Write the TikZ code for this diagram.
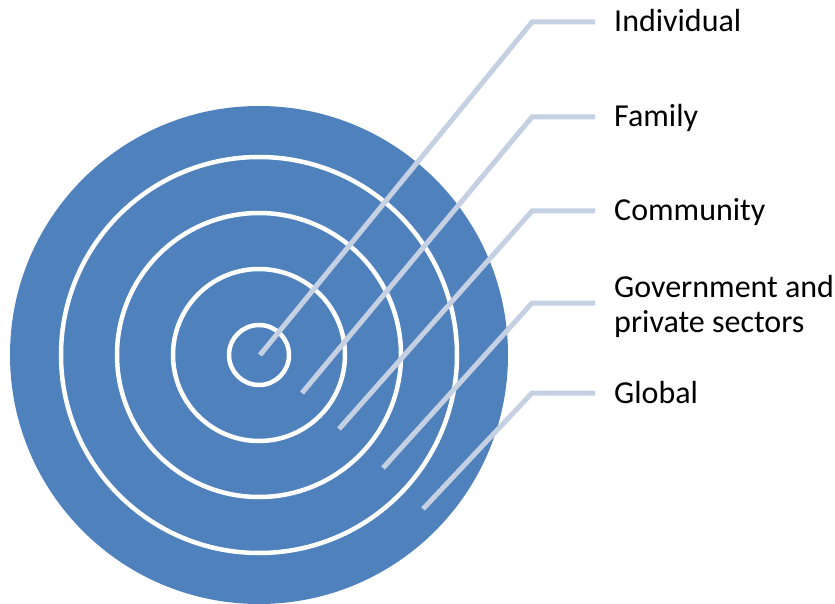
\documentclass[tikz,border=0pt]{standalone}
\usepackage{fontspec}
\setmainfont{Carlito}
\usetikzlibrary{positioning}

\definecolor{targetblue}{RGB}{79,129,189}
\definecolor{leaderblue}{RGB}{197,208,227}

\tikzset{
  target/.style={fill=targetblue},
  ring/.style={draw=white, line width=4.5pt},
  leader/.style={draw=leaderblue, line width=5pt},
  lbl/.style={inner sep=0pt, text height=20pt, text depth=0pt,
    font=\fontsize{32}{35}\selectfont, align=left}
}

\begin{document}
\begin{tikzpicture}[x=1pt,y=-1pt]
  \useasboundingbox (0,0) rectangle (835,604);

  % Target
  \coordinate (c) at (259,355);
  \fill[target] (c) circle (249pt);
  \foreach \r in {30,86,142,198}
  {
    \draw[ring] (c) circle (\r pt);
  }

  % Leader lines
  \coordinate (s1) at (260,355);
  \coordinate (s2) at (302,393);
  \coordinate (s3) at (339,429);
  \coordinate (s4) at (383,468);
  \coordinate (s5) at (423,509);
  \foreach \i/\y in {1/22,2/117,3/211,4/303,5/393}
  {
    \coordinate (k\i) at (532,\y);
    \coordinate (e\i) at (595,\y);
    \draw[leader] (s\i) -- (k\i) -- (e\i);
  }

  % Labels
  \node[lbl, right=19pt of e1] (individual) {Individual};
  \node[lbl, right=19pt of e2] (family) {Family};
  \node[lbl, right=19pt of e3] (community) {Community};
  \node[lbl, right=19pt of e4, text height=58pt] (government) {Government and\\private sectors};
  \node[lbl, right=19pt of e5] (global) {Global};
\end{tikzpicture}
\end{document}
